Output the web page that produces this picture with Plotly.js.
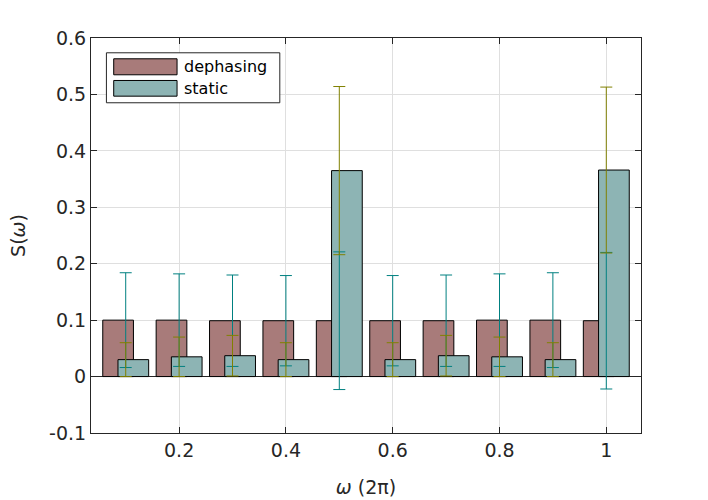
<!DOCTYPE html>
<html>
<head>
<meta charset="utf-8">
<script src="https://cdn.plot.ly/plotly-3.0.1.min.js"></script>
<style>
  body { margin: 0; background: #fff; }
  #chart { width: 708px; height: 500px; }
</style>
</head>
<body>
<div id="chart"></div>
<script>
// values
const omega = [0.1, 0.2, 0.3, 0.4, 0.5, 0.6, 0.7, 0.8, 0.9, 1.0]
const dephasing = [0.100, 0.100, 0.099, 0.099, 0.099, 0.099, 0.099, 0.100, 0.100, 0.099]
const dephasingErr = [0.084, 0.082, 0.081, 0.080, 0.122, 0.080, 0.081, 0.082, 0.084, 0.121]
const staticVals = [0.030, 0.035, 0.037, 0.030, 0.365, 0.030, 0.037, 0.035, 0.030, 0.366]
const staticErr = [0.030, 0.035, 0.036, 0.030, 0.149, 0.030, 0.036, 0.035, 0.030, 0.147]

const xTickVals = [0.2, 0.4, 0.6, 0.8, 1]
const xTickText = ['0.2', '0.4', '0.6', '0.8', '1']
const yTickVals = [-0.1, 0, 0.1, 0.2, 0.3, 0.4, 0.5, 0.6]
const yTickText = ['-0.1', '0', '0.1', '0.2', '0.3', '0.4', '0.5', '0.6']

const legendNames = ['dephasing', 'static']

const dephColor = '#a87b7a'
const statColor = '#8db4b4'
const axisColor = '#262626'
const gridColor = '#dfdfdf'

// plot area in pixels, used to place the hand drawn legend
const L = 91.3, R = 641, T = 37.5, B = 432.7
const px = v => (v - L) / (R - L)
const py = v => (B - v) / (B - T)

const traces = [
  {
    type: 'bar', x: omega, y: dephasing, name: legendNames[0],
    offset: -0.043, width: 0.0575,
    marker: { color: dephColor, line: { color: '#000', width: 1 } },
    showlegend: false, hoverinfo: 'x+y'
  },
  {
    type: 'bar', x: omega, y: staticVals, name: legendNames[1],
    offset: -0.0145, width: 0.0575,
    marker: { color: statColor, line: { color: '#000', width: 1 } },
    showlegend: false, hoverinfo: 'x+y'
  },
  {
    type: 'scatter', mode: 'markers', x: omega, y: dephasing,
    marker: { size: 1, opacity: 0 },
    error_y: { type: 'data', array: dephasingErr, visible: true, color: '#008080', thickness: 1, width: 6 },
    showlegend: false, hoverinfo: 'skip'
  },
  {
    type: 'scatter', mode: 'markers', x: omega, y: staticVals,
    marker: { size: 1, opacity: 0 },
    error_y: { type: 'data', array: staticErr, visible: true, color: '#808000', thickness: 1, width: 6 },
    showlegend: false, hoverinfo: 'skip'
  }
]

const layout = {
  width: 708, height: 500,
  margin: { l: L, r: 708 - R, t: T, b: 500 - B, pad: 0 },
  paper_bgcolor: '#fff', plot_bgcolor: '#fff',
  font: { family: 'DejaVu Sans, sans-serif', size: 19, color: axisColor },
  barmode: 'overlay',
  xaxis: {
    range: [0.035, 1.065],
    tickvals: xTickVals, ticktext: xTickText,
    ticks: 'inside', ticklen: 6, tickcolor: axisColor,
    showline: true, linecolor: axisColor, linewidth: 1, mirror: 'ticks',
    showgrid: true, gridcolor: gridColor, zeroline: false,
    tickfont: { size: 19, color: axisColor },
    title: { text: '<i>ω</i> (2π)', font: { size: 19, color: axisColor }, standoff: 20 }
  },
  yaxis: {
    range: [-0.1, 0.6],
    tickvals: yTickVals, ticktext: yTickText,
    ticks: 'inside', ticklen: 6, tickcolor: axisColor,
    showline: true, linecolor: axisColor, linewidth: 1, mirror: 'ticks',
    showgrid: true, gridcolor: gridColor,
    zeroline: true, zerolinecolor: axisColor, zerolinewidth: 1,
    tickfont: { size: 19, color: axisColor },
    title: { text: 'S(<i>ω</i>)', font: { size: 19, color: axisColor }, standoff: 18 }
  },
  shapes: [
    { type: 'rect', xref: 'paper', yref: 'paper', x0: px(106.7), x1: px(280), y0: py(102.3), y1: py(52.3),
      fillcolor: '#fff', line: { color: axisColor, width: 1 } },
    { type: 'rect', xref: 'paper', yref: 'paper', x0: px(114), x1: px(177.3), y0: py(74.3), y1: py(58.3),
      fillcolor: dephColor, line: { color: '#000', width: 1 } },
    { type: 'rect', xref: 'paper', yref: 'paper', x0: px(114), x1: px(177.3), y0: py(95.7), y1: py(80),
      fillcolor: statColor, line: { color: '#000', width: 1 } }
  ],
  annotations: [
    { xref: 'paper', yref: 'paper', x: px(182), y: py(66.3), xanchor: 'left', yanchor: 'middle',
      text: legendNames[0], showarrow: false, font: { size: 16, color: '#000' } },
    { xref: 'paper', yref: 'paper', x: px(182), y: py(88), xanchor: 'left', yanchor: 'middle',
      text: legendNames[1], showarrow: false, font: { size: 16, color: '#000' } }
  ]
}

Plotly.newPlot('chart', traces, layout, { staticPlot: true, displayModeBar: false })
</script>
</body>
</html>
